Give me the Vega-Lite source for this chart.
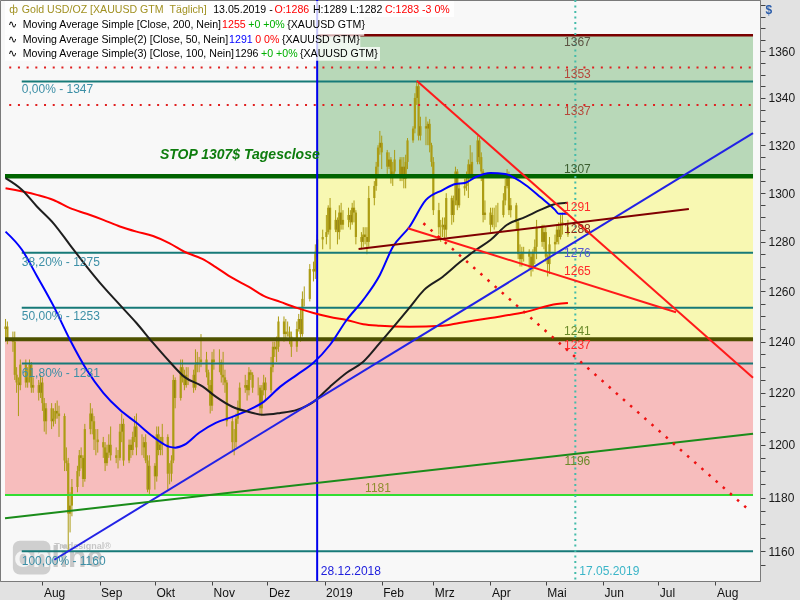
{
"$schema": "https://vega.github.io/schema/vega-lite/v6.json",
"width": 760, "height": 581,
"autosize": {"type": "none"},
"padding": {"left": 0, "top": 0, "right": 40, "bottom": 19},
"background": "#e2e2e2",
"config": {"font": "Liberation Sans", "view": {"fill": "#f8f8f8", "stroke": "#7a7a7a", "strokeWidth": 1}},
"resolve": {"scale": {"color": "independent"}},
"datasets": {
"zones": [
{"x1": "2018-07-11T17:00:00Z", "x2": "2019-08-21T09:00:00Z", "y1": 1181, "y2": 1241, "z": "pink"},
{"x1": "2018-12-28", "x2": "2019-08-21T09:00:00Z", "y1": 1241, "y2": 1307, "z": "yellow"},
{"x1": "2018-12-28", "x2": "2019-08-21T09:00:00Z", "y1": 1307, "y2": 1367, "z": "green"}
],
"wmbox": [
{"x1": "2018-07-15T23:45:00Z", "x2": "2018-08-05T07:50:00Z", "y1": 1163.9, "y2": 1151.5}
],
"wm": [
{"d": "2018-07-16T14:00:00Z", "v": 1157.6, "t": "on", "k": "on"},
{"d": "2018-08-05T20:40:00Z", "v": 1157.6, "t": "line", "k": "line"},
{"d": "2018-08-07T11:14:00Z", "v": 1162.1, "t": "Tradesignal®", "k": "small"}
],
"ohlc": [
{"d":"2018-07-12","o":1245,"h":1249,"l":1240,"c":1246},
{"d":"2018-07-13","o":1246,"h":1248,"l":1239,"c":1241},
{"d":"2018-07-16","o":1241,"h":1244,"l":1236,"c":1240},
{"d":"2018-07-17","o":1240,"h":1244,"l":1225,"c":1227},
{"d":"2018-07-18","o":1227,"h":1230,"l":1220,"c":1224},
{"d":"2018-07-19","o":1224,"h":1226,"l":1211,"c":1223},
{"d":"2018-07-20","o":1223,"h":1233,"l":1221,"c":1231},
{"d":"2018-07-23","o":1231,"h":1233,"l":1222,"c":1224},
{"d":"2018-07-24","o":1224,"h":1230,"l":1222,"c":1226},
{"d":"2018-07-25","o":1226,"h":1233,"l":1224,"c":1231},
{"d":"2018-07-26","o":1231,"h":1232,"l":1220,"c":1222},
{"d":"2018-07-27","o":1222,"h":1226,"l":1220,"c":1223},
{"d":"2018-07-30","o":1223,"h":1225,"l":1217,"c":1220},
{"d":"2018-07-31","o":1220,"h":1227,"l":1218,"c":1224},
{"d":"2018-08-01","o":1224,"h":1226,"l":1213,"c":1216},
{"d":"2018-08-02","o":1216,"h":1218,"l":1205,"c":1209},
{"d":"2018-08-03","o":1209,"h":1216,"l":1204,"c":1214},
{"d":"2018-08-06","o":1214,"h":1216,"l":1206,"c":1209},
{"d":"2018-08-07","o":1209,"h":1214,"l":1207,"c":1210},
{"d":"2018-08-08","o":1210,"h":1216,"l":1208,"c":1213},
{"d":"2018-08-09","o":1213,"h":1217,"l":1210,"c":1212},
{"d":"2018-08-10","o":1212,"h":1215,"l":1203,"c":1211},
{"d":"2018-08-13","o":1211,"h":1212,"l":1190,"c":1194},
{"d":"2018-08-14","o":1194,"h":1199,"l":1190,"c":1193},
{"d":"2018-08-15","o":1193,"h":1195,"l":1160,"c":1174},
{"d":"2018-08-16","o":1174,"h":1182,"l":1167,"c":1177},
{"d":"2018-08-17","o":1177,"h":1187,"l":1173,"c":1184},
{"d":"2018-08-20","o":1184,"h":1192,"l":1182,"c":1190},
{"d":"2018-08-21","o":1190,"h":1198,"l":1188,"c":1196},
{"d":"2018-08-22","o":1196,"h":1199,"l":1191,"c":1195},
{"d":"2018-08-23","o":1195,"h":1196,"l":1184,"c":1187},
{"d":"2018-08-24","o":1187,"h":1208,"l":1186,"c":1206},
{"d":"2018-08-27","o":1206,"h":1216,"l":1204,"c":1212},
{"d":"2018-08-28","o":1212,"h":1214,"l":1204,"c":1209},
{"d":"2018-08-29","o":1209,"h":1211,"l":1198,"c":1202},
{"d":"2018-08-30","o":1202,"h":1206,"l":1196,"c":1202},
{"d":"2018-08-31","o":1202,"h":1206,"l":1197,"c":1201},
{"d":"2018-09-03","o":1201,"h":1203,"l":1195,"c":1199},
{"d":"2018-09-04","o":1199,"h":1201,"l":1190,"c":1193},
{"d":"2018-09-05","o":1193,"h":1200,"l":1192,"c":1197},
{"d":"2018-09-06","o":1197,"h":1204,"l":1195,"c":1200},
{"d":"2018-09-07","o":1200,"h":1207,"l":1194,"c":1196},
{"d":"2018-09-10","o":1196,"h":1199,"l":1193,"c":1195},
{"d":"2018-09-11","o":1195,"h":1198,"l":1191,"c":1195},
{"d":"2018-09-12","o":1195,"h":1208,"l":1194,"c":1205},
{"d":"2018-09-13","o":1205,"h":1212,"l":1201,"c":1208},
{"d":"2018-09-14","o":1208,"h":1210,"l":1192,"c":1194},
{"d":"2018-09-17","o":1194,"h":1202,"l":1193,"c":1200},
{"d":"2018-09-18","o":1200,"h":1202,"l":1195,"c":1198},
{"d":"2018-09-19","o":1198,"h":1205,"l":1196,"c":1203},
{"d":"2018-09-20","o":1203,"h":1211,"l":1201,"c":1207},
{"d":"2018-09-21","o":1207,"h":1212,"l":1196,"c":1199},
{"d":"2018-09-24","o":1199,"h":1204,"l":1196,"c":1199},
{"d":"2018-09-25","o":1199,"h":1203,"l":1195,"c":1201},
{"d":"2018-09-26","o":1201,"h":1204,"l":1193,"c":1194},
{"d":"2018-09-27","o":1194,"h":1196,"l":1182,"c":1183},
{"d":"2018-09-28","o":1183,"h":1196,"l":1181,"c":1192},
{"d":"2018-10-01","o":1192,"h":1193,"l":1183,"c":1188},
{"d":"2018-10-02","o":1188,"h":1207,"l":1186,"c":1204},
{"d":"2018-10-03","o":1204,"h":1207,"l":1196,"c":1198},
{"d":"2018-10-04","o":1198,"h":1203,"l":1196,"c":1200},
{"d":"2018-10-05","o":1200,"h":1208,"l":1196,"c":1203},
{"d":"2018-10-08","o":1203,"h":1204,"l":1183,"c":1189},
{"d":"2018-10-09","o":1189,"h":1193,"l":1185,"c":1189},
{"d":"2018-10-10","o":1189,"h":1196,"l":1186,"c":1194},
{"d":"2018-10-11","o":1194,"h":1227,"l":1193,"c":1225},
{"d":"2018-10-12","o":1225,"h":1226,"l":1214,"c":1218},
{"d":"2018-10-15","o":1218,"h":1233,"l":1217,"c":1230},
{"d":"2018-10-16","o":1230,"h":1233,"l":1224,"c":1226},
{"d":"2018-10-17","o":1226,"h":1229,"l":1221,"c":1223},
{"d":"2018-10-18","o":1223,"h":1230,"l":1222,"c":1227},
{"d":"2018-10-19","o":1227,"h":1230,"l":1223,"c":1227},
{"d":"2018-10-22","o":1227,"h":1229,"l":1220,"c":1222},
{"d":"2018-10-23","o":1222,"h":1237,"l":1221,"c":1231},
{"d":"2018-10-24","o":1231,"h":1236,"l":1228,"c":1232},
{"d":"2018-10-25","o":1232,"h":1234,"l":1228,"c":1232},
{"d":"2018-10-26","o":1232,"h":1243,"l":1230,"c":1233},
{"d":"2018-10-29","o":1233,"h":1236,"l":1226,"c":1228},
{"d":"2018-10-30","o":1228,"h":1229,"l":1221,"c":1223},
{"d":"2018-10-31","o":1223,"h":1225,"l":1212,"c":1215},
{"d":"2018-11-01","o":1215,"h":1236,"l":1213,"c":1233},
{"d":"2018-11-02","o":1233,"h":1237,"l":1229,"c":1232},
{"d":"2018-11-05","o":1232,"h":1237,"l":1228,"c":1232},
{"d":"2018-11-06","o":1232,"h":1233,"l":1224,"c":1227},
{"d":"2018-11-07","o":1227,"h":1236,"l":1223,"c":1226},
{"d":"2018-11-08","o":1226,"h":1229,"l":1220,"c":1224},
{"d":"2018-11-09","o":1224,"h":1225,"l":1207,"c":1209},
{"d":"2018-11-12","o":1209,"h":1211,"l":1198,"c":1201},
{"d":"2018-11-13","o":1201,"h":1206,"l":1196,"c":1201},
{"d":"2018-11-14","o":1201,"h":1212,"l":1199,"c":1210},
{"d":"2018-11-15","o":1210,"h":1217,"l":1208,"c":1214},
{"d":"2018-11-16","o":1214,"h":1224,"l":1213,"c":1222},
{"d":"2018-11-19","o":1222,"h":1227,"l":1220,"c":1223},
{"d":"2018-11-20","o":1223,"h":1225,"l":1217,"c":1221},
{"d":"2018-11-21","o":1221,"h":1230,"l":1219,"c":1228},
{"d":"2018-11-22","o":1228,"h":1229,"l":1225,"c":1227},
{"d":"2018-11-23","o":1227,"h":1228,"l":1220,"c":1222},
{"d":"2018-11-26","o":1222,"h":1226,"l":1219,"c":1222},
{"d":"2018-11-27","o":1222,"h":1223,"l":1212,"c":1214},
{"d":"2018-11-28","o":1214,"h":1223,"l":1211,"c":1221},
{"d":"2018-11-29","o":1221,"h":1227,"l":1219,"c":1224},
{"d":"2018-11-30","o":1224,"h":1226,"l":1217,"c":1221},
{"d":"2018-12-03","o":1221,"h":1234,"l":1220,"c":1230},
{"d":"2018-12-04","o":1230,"h":1240,"l":1228,"c":1238},
{"d":"2018-12-05","o":1238,"h":1240,"l":1234,"c":1237},
{"d":"2018-12-06","o":1237,"h":1242,"l":1232,"c":1238},
{"d":"2018-12-07","o":1238,"h":1250,"l":1236,"c":1248},
{"d":"2018-12-10","o":1248,"h":1250,"l":1240,"c":1243},
{"d":"2018-12-11","o":1243,"h":1249,"l":1241,"c":1244},
{"d":"2018-12-12","o":1244,"h":1248,"l":1242,"c":1244},
{"d":"2018-12-13","o":1244,"h":1246,"l":1239,"c":1242},
{"d":"2018-12-14","o":1242,"h":1244,"l":1234,"c":1238},
{"d":"2018-12-17","o":1238,"h":1248,"l":1236,"c":1245},
{"d":"2018-12-18","o":1245,"h":1251,"l":1244,"c":1249},
{"d":"2018-12-19","o":1249,"h":1253,"l":1240,"c":1243},
{"d":"2018-12-20","o":1243,"h":1260,"l":1242,"c":1257},
{"d":"2018-12-21","o":1257,"h":1262,"l":1254,"c":1257},
{"d":"2018-12-24","o":1257,"h":1271,"l":1256,"c":1269},
{"d":"2018-12-26","o":1269,"h":1272,"l":1264,"c":1268},
{"d":"2018-12-27","o":1268,"h":1279,"l":1265,"c":1276},
{"d":"2018-12-28","o":1276,"h":1283,"l":1274,"c":1281},
{"d":"2018-12-31","o":1281,"h":1285,"l":1277,"c":1282},
{"d":"2019-01-02","o":1282,"h":1291,"l":1279,"c":1284},
{"d":"2019-01-03","o":1284,"h":1295,"l":1283,"c":1294},
{"d":"2019-01-04","o":1294,"h":1298,"l":1277,"c":1285},
{"d":"2019-01-07","o":1285,"h":1293,"l":1284,"c":1289},
{"d":"2019-01-08","o":1289,"h":1290,"l":1279,"c":1284},
{"d":"2019-01-09","o":1284,"h":1295,"l":1281,"c":1292},
{"d":"2019-01-10","o":1292,"h":1296,"l":1285,"c":1287},
{"d":"2019-01-11","o":1287,"h":1293,"l":1285,"c":1289},
{"d":"2019-01-14","o":1289,"h":1294,"l":1286,"c":1291},
{"d":"2019-01-15","o":1291,"h":1293,"l":1285,"c":1288},
{"d":"2019-01-16","o":1288,"h":1296,"l":1287,"c":1294},
{"d":"2019-01-17","o":1294,"h":1297,"l":1288,"c":1292},
{"d":"2019-01-18","o":1292,"h":1293,"l":1279,"c":1282},
{"d":"2019-01-21","o":1282,"h":1284,"l":1277,"c":1280},
{"d":"2019-01-22","o":1280,"h":1286,"l":1278,"c":1283},
{"d":"2019-01-23","o":1283,"h":1286,"l":1279,"c":1282},
{"d":"2019-01-24","o":1282,"h":1286,"l":1275,"c":1280},
{"d":"2019-01-25","o":1280,"h":1303,"l":1278,"c":1298},
{"d":"2019-01-28","o":1298,"h":1305,"l":1295,"c":1303},
{"d":"2019-01-29","o":1303,"h":1313,"l":1301,"c":1311},
{"d":"2019-01-30","o":1311,"h":1320,"l":1307,"c":1319},
{"d":"2019-01-31","o":1319,"h":1326,"l":1316,"c":1321},
{"d":"2019-02-01","o":1321,"h":1324,"l":1310,"c":1317},
{"d":"2019-02-04","o":1317,"h":1318,"l":1308,"c":1311},
{"d":"2019-02-05","o":1311,"h":1317,"l":1310,"c":1314},
{"d":"2019-02-06","o":1314,"h":1315,"l":1304,"c":1307},
{"d":"2019-02-07","o":1307,"h":1313,"l":1303,"c":1309},
{"d":"2019-02-08","o":1309,"h":1318,"l":1308,"c":1314},
{"d":"2019-02-11","o":1314,"h":1315,"l":1305,"c":1307},
{"d":"2019-02-12","o":1307,"h":1315,"l":1305,"c":1311},
{"d":"2019-02-13","o":1311,"h":1315,"l":1302,"c":1306},
{"d":"2019-02-14","o":1306,"h":1316,"l":1302,"c":1313},
{"d":"2019-02-15","o":1313,"h":1323,"l":1310,"c":1322},
{"d":"2019-02-18","o":1322,"h":1328,"l":1321,"c":1327},
{"d":"2019-02-19","o":1327,"h":1342,"l":1325,"c":1340},
{"d":"2019-02-20","o":1340,"h":1347,"l":1337,"c":1345},
{"d":"2019-02-21","o":1345,"h":1347,"l":1322,"c":1324},
{"d":"2019-02-22","o":1324,"h":1332,"l":1322,"c":1328},
{"d":"2019-02-25","o":1328,"h":1332,"l":1320,"c":1327},
{"d":"2019-02-26","o":1327,"h":1330,"l":1320,"c":1329},
{"d":"2019-02-27","o":1329,"h":1331,"l":1317,"c":1320},
{"d":"2019-02-28","o":1320,"h":1321,"l":1311,"c":1313},
{"d":"2019-03-01","o":1313,"h":1315,"l":1291,"c":1293},
{"d":"2019-03-04","o":1293,"h":1296,"l":1283,"c":1286},
{"d":"2019-03-05","o":1286,"h":1289,"l":1280,"c":1286},
{"d":"2019-03-06","o":1286,"h":1290,"l":1282,"c":1287},
{"d":"2019-03-07","o":1287,"h":1290,"l":1281,"c":1285},
{"d":"2019-03-08","o":1285,"h":1300,"l":1282,"c":1298},
{"d":"2019-03-11","o":1298,"h":1299,"l":1287,"c":1291},
{"d":"2019-03-12","o":1291,"h":1299,"l":1288,"c":1297},
{"d":"2019-03-13","o":1297,"h":1311,"l":1295,"c":1309},
{"d":"2019-03-14","o":1309,"h":1310,"l":1293,"c":1295},
{"d":"2019-03-15","o":1295,"h":1304,"l":1294,"c":1302},
{"d":"2019-03-18","o":1302,"h":1306,"l":1299,"c":1303},
{"d":"2019-03-19","o":1303,"h":1309,"l":1301,"c":1306},
{"d":"2019-03-20","o":1306,"h":1314,"l":1298,"c":1312},
{"d":"2019-03-21","o":1312,"h":1320,"l":1305,"c":1307},
{"d":"2019-03-22","o":1307,"h":1317,"l":1306,"c":1313},
{"d":"2019-03-25","o":1313,"h":1324,"l":1312,"c":1322},
{"d":"2019-03-26","o":1322,"h":1323,"l":1312,"c":1315},
{"d":"2019-03-27","o":1315,"h":1317,"l":1305,"c":1309},
{"d":"2019-03-28","o":1309,"h":1310,"l":1288,"c":1291},
{"d":"2019-03-29","o":1291,"h":1297,"l":1289,"c":1292},
{"d":"2019-04-01","o":1292,"h":1294,"l":1284,"c":1287},
{"d":"2019-04-02","o":1287,"h":1294,"l":1286,"c":1291},
{"d":"2019-04-03","o":1291,"h":1294,"l":1285,"c":1291},
{"d":"2019-04-04","o":1291,"h":1295,"l":1286,"c":1291},
{"d":"2019-04-05","o":1291,"h":1296,"l":1288,"c":1291},
{"d":"2019-04-08","o":1291,"h":1300,"l":1290,"c":1297},
{"d":"2019-04-09","o":1297,"h":1306,"l":1295,"c":1303},
{"d":"2019-04-10","o":1303,"h":1310,"l":1302,"c":1308},
{"d":"2019-04-11","o":1308,"h":1309,"l":1291,"c":1293},
{"d":"2019-04-12","o":1293,"h":1298,"l":1290,"c":1295},
{"d":"2019-04-15","o":1295,"h":1296,"l":1285,"c":1288},
{"d":"2019-04-16","o":1288,"h":1289,"l":1273,"c":1275},
{"d":"2019-04-17","o":1275,"h":1279,"l":1270,"c":1273},
{"d":"2019-04-18","o":1273,"h":1278,"l":1270,"c":1276},
{"d":"2019-04-19","o":1276,"h":1278,"l":1272,"c":1276},
{"d":"2019-04-22","o":1276,"h":1277,"l":1269,"c":1274},
{"d":"2019-04-23","o":1274,"h":1276,"l":1266,"c":1270},
{"d":"2019-04-24","o":1270,"h":1277,"l":1268,"c":1276},
{"d":"2019-04-25","o":1276,"h":1281,"l":1271,"c":1278},
{"d":"2019-04-26","o":1278,"h":1289,"l":1273,"c":1286},
{"d":"2019-04-29","o":1286,"h":1287,"l":1278,"c":1280},
{"d":"2019-04-30","o":1280,"h":1287,"l":1277,"c":1284},
{"d":"2019-05-01","o":1284,"h":1286,"l":1272,"c":1274},
{"d":"2019-05-02","o":1274,"h":1275,"l":1266,"c":1271},
{"d":"2019-05-03","o":1271,"h":1282,"l":1267,"c":1279},
{"d":"2019-05-06","o":1279,"h":1283,"l":1276,"c":1280},
{"d":"2019-05-07","o":1280,"h":1287,"l":1279,"c":1285},
{"d":"2019-05-08","o":1285,"h":1288,"l":1279,"c":1282},
{"d":"2019-05-09","o":1282,"h":1291,"l":1281,"c":1287},
{"d":"2019-05-10","o":1287,"h":1292,"l":1283,"c":1288},
{"d":"2019-05-13","o":1286,"h":1289,"l":1282,"c":1283}
],
"hl": [
{"v": 1367, "s": "2018-12-28", "e": "2019-08-21T09:00:00Z", "k": "darkred"},
{"v": 1353, "s": "2018-07-14", "e": "2019-08-21T09:00:00Z", "k": "reddot"},
{"v": 1337, "s": "2018-07-14", "e": "2019-08-21T09:00:00Z", "k": "reddot"},
{"v": 1347, "s": "2018-07-20T19:00:00Z", "e": "2019-08-21T09:00:00Z", "k": "fib"},
{"v": 1275.6, "s": "2018-07-20T19:00:00Z", "e": "2019-08-21T09:00:00Z", "k": "fib"},
{"v": 1253.5, "s": "2018-07-20T19:00:00Z", "e": "2019-08-21T09:00:00Z", "k": "fib"},
{"v": 1231.4, "s": "2018-07-20T19:00:00Z", "e": "2019-08-21T09:00:00Z", "k": "fib"},
{"v": 1160, "s": "2018-07-20T19:00:00Z", "e": "2019-08-21T09:00:00Z", "k": "fib"},
{"v": 1307, "s": "2018-07-11T17:00:00Z", "e": "2019-08-21T09:00:00Z", "k": "stop"},
{"v": 1241, "s": "2018-07-11T17:00:00Z", "e": "2019-08-21T09:00:00Z", "k": "olive"},
{"v": 1181, "s": "2018-07-11T17:00:00Z", "e": "2019-08-21T09:00:00Z", "k": "lgreen"}
],
"vl": [
{"d": "2018-12-28", "k": "blue"},
{"d": "2019-05-17", "k": "teal"}
],
"ma": [
{"d":"2018-07-12","v":1302.0,"s":"ma200"},{"d":"2018-07-29","v":1299.3,"s":"ma200"},{"d":"2018-08-07","v":1297.2,"s":"ma200"},{"d":"2018-08-16","v":1293.8,"s":"ma200"},{"d":"2018-08-25","v":1291.5,"s":"ma200"},{"d":"2018-09-03","v":1289.0,"s":"ma200"},{"d":"2018-09-12","v":1286.3,"s":"ma200"},{"d":"2018-09-21","v":1284.2,"s":"ma200"},{"d":"2018-09-30","v":1282.4,"s":"ma200"},{"d":"2018-10-09","v":1279.4,"s":"ma200"},{"d":"2018-10-17","v":1276.0,"s":"ma200"},{"d":"2018-10-27","v":1273.0,"s":"ma200"},{"d":"2018-11-03","v":1269.8,"s":"ma200"},{"d":"2018-11-12","v":1265.4,"s":"ma200"},{"d":"2018-11-21","v":1261.8,"s":"ma200"},{"d":"2018-11-29","v":1258.2,"s":"ma200"},{"d":"2018-12-08","v":1255.8,"s":"ma200"},{"d":"2018-12-17","v":1253.4,"s":"ma200"},{"d":"2018-12-26","v":1251.4,"s":"ma200"},{"d":"2019-01-04","v":1249.8,"s":"ma200"},{"d":"2019-01-13","v":1248.6,"s":"ma200"},{"d":"2019-01-22","v":1246.9,"s":"ma200"},{"d":"2019-01-31","v":1246.3,"s":"ma200"},{"d":"2019-02-16","v":1245.9,"s":"ma200"},{"d":"2019-03-06","v":1246.3,"s":"ma200"},{"d":"2019-03-15","v":1247.4,"s":"ma200"},{"d":"2019-04-01","v":1249.4,"s":"ma200"},{"d":"2019-04-20","v":1251.8,"s":"ma200"},{"d":"2019-05-07","v":1255.0,"s":"ma200"},{"d":"2019-05-13","v":1255.4,"s":"ma200"},
{"d":"2018-07-12","v":1284.2,"s":"ma50"},{"d":"2018-07-21","v":1276.7,"s":"ma50"},{"d":"2018-07-29","v":1266.2,"s":"ma50"},{"d":"2018-08-07","v":1254.2,"s":"ma50"},{"d":"2018-08-16","v":1240.7,"s":"ma50"},{"d":"2018-08-25","v":1229.0,"s":"ma50"},{"d":"2018-09-03","v":1220.0,"s":"ma50"},{"d":"2018-09-12","v":1213.4,"s":"ma50"},{"d":"2018-09-21","v":1208.4,"s":"ma50"},{"d":"2018-09-30","v":1203.1,"s":"ma50"},{"d":"2018-10-09","v":1199.2,"s":"ma50"},{"d":"2018-10-12","v":1198.9,"s":"ma50"},{"d":"2018-10-17","v":1200.0,"s":"ma50"},{"d":"2018-10-25","v":1204.6,"s":"ma50"},{"d":"2018-11-03","v":1208.4,"s":"ma50"},{"d":"2018-11-12","v":1210.7,"s":"ma50"},{"d":"2018-11-21","v":1213.4,"s":"ma50"},{"d":"2018-11-29","v":1216.5,"s":"ma50"},{"d":"2018-12-08","v":1222.4,"s":"ma50"},{"d":"2018-12-17","v":1227.0,"s":"ma50"},{"d":"2018-12-26","v":1231.7,"s":"ma50"},{"d":"2019-01-04","v":1238.8,"s":"ma50"},{"d":"2019-01-13","v":1248.6,"s":"ma50"},{"d":"2019-01-22","v":1256.6,"s":"ma50"},{"d":"2019-01-31","v":1266.6,"s":"ma50"},{"d":"2019-02-07","v":1277.9,"s":"ma50"},{"d":"2019-02-16","v":1286.1,"s":"ma50"},{"d":"2019-02-25","v":1297.2,"s":"ma50"},{"d":"2019-03-06","v":1301.3,"s":"ma50"},{"d":"2019-03-13","v":1303.8,"s":"ma50"},{"d":"2019-03-18","v":1304.2,"s":"ma50"},{"d":"2019-03-24","v":1306.7,"s":"ma50"},{"d":"2019-04-01","v":1308.4,"s":"ma50"},{"d":"2019-04-09","v":1308.0,"s":"ma50"},{"d":"2019-04-14","v":1306.3,"s":"ma50"},{"d":"2019-04-20","v":1303.4,"s":"ma50"},{"d":"2019-04-28","v":1298.4,"s":"ma50"},{"d":"2019-05-06","v":1293.1,"s":"ma50"},{"d":"2019-05-08","v":1291.5,"s":"ma50"},{"d":"2019-05-13","v":1291.5,"s":"ma50"},
{"d":"2018-07-12","v":1306.2,"s":"ma100"},{"d":"2018-07-21","v":1301.3,"s":"ma100"},{"d":"2018-07-29","v":1294.5,"s":"ma100"},{"d":"2018-08-07","v":1287.6,"s":"ma100"},{"d":"2018-08-16","v":1278.7,"s":"ma100"},{"d":"2018-08-25","v":1270.0,"s":"ma100"},{"d":"2018-09-03","v":1261.9,"s":"ma100"},{"d":"2018-09-12","v":1254.6,"s":"ma100"},{"d":"2018-09-21","v":1247.4,"s":"ma100"},{"d":"2018-09-30","v":1239.5,"s":"ma100"},{"d":"2018-10-09","v":1232.1,"s":"ma100"},{"d":"2018-10-17","v":1226.2,"s":"ma100"},{"d":"2018-10-27","v":1222.4,"s":"ma100"},{"d":"2018-11-03","v":1218.5,"s":"ma100"},{"d":"2018-11-12","v":1214.6,"s":"ma100"},{"d":"2018-11-21","v":1212.6,"s":"ma100"},{"d":"2018-11-29","v":1211.5,"s":"ma100"},{"d":"2018-12-08","v":1212.2,"s":"ma100"},{"d":"2018-12-17","v":1213.4,"s":"ma100"},{"d":"2018-12-26","v":1216.5,"s":"ma100"},{"d":"2019-01-04","v":1222.4,"s":"ma100"},{"d":"2019-01-13","v":1227.8,"s":"ma100"},{"d":"2019-01-22","v":1232.1,"s":"ma100"},{"d":"2019-01-31","v":1239.5,"s":"ma100"},{"d":"2019-02-16","v":1253.4,"s":"ma100"},{"d":"2019-02-24","v":1260.6,"s":"ma100"},{"d":"2019-03-06","v":1265.8,"s":"ma100"},{"d":"2019-03-15","v":1271.5,"s":"ma100"},{"d":"2019-03-24","v":1276.7,"s":"ma100"},{"d":"2019-04-01","v":1280.8,"s":"ma100"},{"d":"2019-04-10","v":1287.0,"s":"ma100"},{"d":"2019-04-20","v":1290.2,"s":"ma100"},{"d":"2019-04-28","v":1293.1,"s":"ma100"},{"d":"2019-05-07","v":1295.6,"s":"ma100"},{"d":"2019-05-13","v":1296.0,"s":"ma100"}
],
"trend": [
{"d":"2018-08-07T11:00:00Z","v":1156.9,"id":"blueT"},{"d":"2019-08-21T09:00:00Z","v":1325.1,"id":"blueT"},
{"d":"2019-02-20","v":1347.3,"id":"redD"},{"d":"2019-08-21T09:00:00Z","v":1225.9,"id":"redD"},
{"d":"2019-02-15T03:00:00Z","v":1285.6,"id":"redL"},{"d":"2019-07-10T15:00:00Z","v":1251.7,"id":"redL"},
{"d":"2019-01-19T11:00:00Z","v":1277.1,"id":"brown"},{"d":"2019-07-17T14:00:00Z","v":1293.5,"id":"brown"},
{"d":"2018-07-11T17:00:00Z","v":1172.3,"id":"green"},{"d":"2019-08-21T09:00:00Z","v":1204.2,"id":"green"},
{"d":"2019-02-23T15:00:00Z","v":1287.6,"id":"redDot"},{"d":"2019-08-19T18:00:00Z","v":1175.0,"id":"redDot"}
],
"lblL": [
{"d":"2018-07-20T19:21:00Z","v":1343.6,"t":"0,00% - 1347","k":"fib"},
{"d":"2018-07-20T19:21:00Z","v":1271.9,"t":"38,20% - 1275","k":"fib"},
{"d":"2018-07-20T19:21:00Z","v":1250.2,"t":"50,00% - 1253","k":"fib"},
{"d":"2018-07-20T19:21:00Z","v":1227.8,"t":"61,80% - 1231","k":"fib"},
{"d":"2018-07-20T19:21:00Z","v":1156.6,"t":"100,00% - 1160","k":"fib"},
{"d":"2018-12-30T00:00:00Z","v":1152.6,"t":"28.12.2018","k":"blue"},
{"d":"2019-05-19T04:00:00Z","v":1152.6,"t":"17.05.2019","k":"teal"}
],
"lblC": [
{"d":"2019-05-18T03:00:00Z","v":1364.0,"t":"1367","k":"dk"},
{"d":"2019-05-18T03:00:00Z","v":1350.3,"t":"1353","k":"rb"},
{"d":"2019-05-18T03:00:00Z","v":1334.4,"t":"1337","k":"rb"},
{"d":"2019-05-18T03:00:00Z","v":1310.0,"t":"1307","k":"dg"},
{"d":"2019-05-18T03:00:00Z","v":1294.3,"t":"1291","k":"red"},
{"d":"2019-05-18T03:00:00Z","v":1285.3,"t":"1288","k":"brown"},
{"d":"2019-05-18T03:00:00Z","v":1275.5,"t":"1276","k":"slate"},
{"d":"2019-05-18T03:00:00Z","v":1268.2,"t":"1265","k":"red"},
{"d":"2019-05-18T03:00:00Z","v":1244.3,"t":"1241","k":"og"},
{"d":"2019-05-18T03:00:00Z","v":1238.8,"t":"1237","k":"red"},
{"d":"2019-05-18T03:00:00Z","v":1193.9,"t":"1196","k":"og"},
{"d":"2019-01-30T00:00:00Z","v":1183.7,"t":"1181","k":"ol"}
],
"stop": [
{"d":"2018-10-03T17:30:00Z","v":1315.9,"t":"STOP 1307$ Tagesclose"}
],
"lbg": [
{"x1":"2018-07-11T17:00:00Z","x2":"2019-03-12T05:15:00Z","y1":1382.0,"y2":1374.9},
{"x1":"2018-07-11T17:00:00Z","x2":"2019-01-22T12:26:00Z","y1":1374.9,"y2":1366.8},
{"x1":"2018-07-11T17:00:00Z","x2":"2019-01-20T09:05:00Z","y1":1366.8,"y2":1361.9},
{"x1":"2018-07-11T17:00:00Z","x2":"2019-01-31T01:53:00Z","y1":1361.9,"y2":1355.9}
],
"leg": [
{"d":"2018-07-14T00:00:00Z","v":1378.0,"t":"ф","k":"olive"},
{"d":"2018-07-20T19:21:00Z","v":1378.0,"t":"Gold USD/OZ [XAUUSD GTM \u00a0Täglich]","k":"olive"},
{"d":"2018-11-01T15:06:00Z","v":1378.0,"t":"13.05.2019 -","k":"black"},
{"d":"2018-12-04T19:38:00Z","v":1378.0,"t":"O:1286","k":"red"},
{"d":"2018-12-25T16:30:00Z","v":1378.0,"t":"H:1289 L:1282","k":"black"},
{"d":"2019-02-02T18:12:00Z","v":1378.0,"t":"C:1283 -3 0%","k":"red"},
{"d":"2018-07-13T12:00:00Z","v":1371.4,"t":"∿","k":"black"},
{"d":"2018-07-21T08:12:00Z","v":1371.4,"t":"Moving Average Simple [Close, 200, Nein]","k":"black"},
{"d":"2018-11-06T10:45:00Z","v":1371.4,"t":"1255","k":"red"},
{"d":"2018-11-20T15:05:00Z","v":1371.4,"t":"+0 +0%","k":"green"},
{"d":"2018-12-11T18:26:00Z","v":1371.4,"t":"{XAUUSD GTM}","k":"black"},
{"d":"2018-07-13T12:00:00Z","v":1364.9,"t":"∿","k":"black"},
{"d":"2018-07-21T08:12:00Z","v":1364.9,"t":"Moving Average Simple(2) [Close, 50, Nein]","k":"black"},
{"d":"2018-11-10T05:58:00Z","v":1364.9,"t":"1291","k":"blue"},
{"d":"2018-11-24T10:17:00Z","v":1364.9,"t":"0 0%","k":"red"},
{"d":"2018-12-08T22:31:00Z","v":1364.9,"t":"{XAUUSD GTM}","k":"black"},
{"d":"2018-07-13T12:00:00Z","v":1358.9,"t":"∿","k":"black"},
{"d":"2018-07-21T08:12:00Z","v":1358.9,"t":"Moving Average Simple(3) [Close, 100, Nein]","k":"black"},
{"d":"2018-11-13T09:48:00Z","v":1358.9,"t":"1296","k":"black"},
{"d":"2018-11-27T14:07:00Z","v":1358.9,"t":"+0 +0%","k":"green"},
{"d":"2018-12-18T16:17:00Z","v":1358.9,"t":"{XAUUSD GTM}","k":"black"}
]
},
"layer": [
{"data": {"name": "zones"}, "mark": {"type": "rect", "clip": true},
 "encoding": {
  "x": {"field": "x1", "type": "temporal",
   "scale": {"type": "utc", "domain": [{"year": 2018, "month": 7, "date": 11, "hours": 17, "utc": true}, {"year": 2019, "month": 8, "date": 22, "hours": 10, "minutes": 45, "utc": true}]},
   "axis": {"orient": "bottom", "title": null, "grid": false,
    "values": [{"year":2018,"month":8,"date":1,"utc":true},{"year":2018,"month":9,"date":1,"utc":true},{"year":2018,"month":10,"date":1,"utc":true},{"year":2018,"month":11,"date":1,"utc":true},{"year":2018,"month":12,"date":1,"utc":true},{"year":2019,"month":1,"date":1,"utc":true},{"year":2019,"month":2,"date":1,"utc":true},{"year":2019,"month":3,"date":1,"utc":true},{"year":2019,"month":4,"date":1,"utc":true},{"year":2019,"month":5,"date":1,"utc":true},{"year":2019,"month":6,"date":1,"utc":true},{"year":2019,"month":7,"date":1,"utc":true},{"year":2019,"month":8,"date":1,"utc":true}],
    "labelExpr": "utcmonth(datum.value) == 0 ? utcFormat(datum.value, '%Y') : ['Jan','Feb','Mrz','Apr','Mai','Jun','Jul','Aug','Sep','Okt','Nov','Dez'][utcmonth(datum.value)]",
    "labelAlign": "left", "labelOffset": 1, "labelPadding": 2, "labelBaseline": "top", "labelFontSize": 12, "labelColor": "#111111", "labelFont": "Liberation Sans",
    "tickSize": 4, "tickColor": "#444444", "domainColor": "#7a7a7a", "labelOverlap": false, "labelBound": false, "labelFlush": false}},
  "x2": {"field": "x2"},
  "y": {"field": "y1", "type": "quantitative",
   "scale": {"type": "log", "domain": [1149.1, 1382.4], "nice": false},
   "axis": {"orient": "right", "grid": false,
    "values": [1155,1160,1165,1170,1175,1180,1185,1190,1195,1200,1205,1210,1215,1220,1225,1230,1235,1240,1245,1250,1255,1260,1265,1270,1275,1280,1285,1290,1295,1300,1305,1310,1315,1320,1325,1330,1335,1340,1345,1350,1355,1360,1365,1370,1375,1380],
    "labelExpr": "(datum.value % 20 == 0 && datum.value < 1370) ? format(datum.value, 'd') : ''",
    "tickSize": 5, "tickColor": "#444444", "domainColor": "#7a7a7a", "labelPadding": 3, "labelFontSize": 12, "labelColor": "#1a1a1a", "labelFont": "Liberation Sans", "labelOverlap": false, "labelBound": false, "labelFlush": false,
    "title": "$", "titleAngle": 0, "titleX": 5, "titleY": 4, "titleAlign": "left", "titleBaseline": "top", "titleColor": "#2a5caa", "titleFontSize": 12, "titleFontWeight": "bold", "titleFont": "Liberation Sans"}},
  "y2": {"field": "y2"},
  "color": {"field": "z", "type": "nominal", "scale": {"domain": ["pink", "yellow", "green"], "range": ["#f7bdbd", "#f8f8b2", "#b8d8b8"]}, "legend": null}
 }},
{"data": {"name": "wmbox"}, "mark": {"type": "rect", "color": "#c8c8c8", "cornerRadius": 7, "opacity": 0.85, "clip": true},
 "encoding": {"x": {"field": "x1", "type": "temporal"}, "x2": {"field": "x2"}, "y": {"field": "y1", "type": "quantitative"}, "y2": {"field": "y2"}}},
{"data": {"name": "wm"}, "transform": [{"filter": "datum.k == 'on'"}],
 "mark": {"type": "text", "align": "left", "baseline": "middle", "fontSize": 30, "fontWeight": "bold", "color": "#f4f4f4", "font": "Liberation Sans", "clip": true},
 "encoding": {"x": {"field": "d", "type": "temporal"}, "y": {"field": "v", "type": "quantitative"}, "text": {"field": "t"}}},
{"data": {"name": "wm"}, "transform": [{"filter": "datum.k == 'line'"}],
 "mark": {"type": "text", "align": "left", "baseline": "middle", "fontSize": 30, "fontWeight": "bold", "color": "#c8c8c8", "font": "Liberation Sans", "clip": true},
 "encoding": {"x": {"field": "d", "type": "temporal"}, "y": {"field": "v", "type": "quantitative"}, "text": {"field": "t"}}},
{"data": {"name": "wm"}, "transform": [{"filter": "datum.k == 'small'"}],
 "mark": {"type": "text", "align": "left", "baseline": "middle", "fontSize": 9, "fontWeight": "bold", "color": "#c6c6c6", "font": "Liberation Sans", "clip": true},
 "encoding": {"x": {"field": "d", "type": "temporal"}, "y": {"field": "v", "type": "quantitative"}, "text": {"field": "t"}}},
{"data": {"name": "ohlc"}, "mark": {"type": "rule", "color": "#ac9c14", "strokeWidth": 1, "blend": "multiply", "clip": true},
 "encoding": {"x": {"field": "d", "type": "temporal"}, "y": {"field": "l", "type": "quantitative"}, "y2": {"field": "h"}}},
{"data": {"name": "ohlc"}, "mark": {"type": "bar", "color": "#ac9c14", "size": 2.2, "blend": "multiply", "clip": true},
 "encoding": {"x": {"field": "d", "type": "temporal"}, "y": {"field": "o", "type": "quantitative"}, "y2": {"field": "c"}}},
{"data": {"name": "hl"}, "transform": [{"filter": "datum.k == 'fib'"}], "mark": {"type": "rule", "color": "#177a78", "strokeWidth": 2, "clip": true},
 "encoding": {"x": {"field": "s", "type": "temporal"}, "x2": {"field": "e"}, "y": {"field": "v", "type": "quantitative"}}},
{"data": {"name": "hl"}, "transform": [{"filter": "datum.k == 'stop'"}], "mark": {"type": "rule", "color": "#006400", "strokeWidth": 4.5, "clip": true},
 "encoding": {"x": {"field": "s", "type": "temporal"}, "x2": {"field": "e"}, "y": {"field": "v", "type": "quantitative"}}},
{"data": {"name": "hl"}, "transform": [{"filter": "datum.k == 'olive'"}], "mark": {"type": "rule", "color": "#4e5200", "strokeWidth": 4, "clip": true},
 "encoding": {"x": {"field": "s", "type": "temporal"}, "x2": {"field": "e"}, "y": {"field": "v", "type": "quantitative"}}},
{"data": {"name": "hl"}, "transform": [{"filter": "datum.k == 'lgreen'"}], "mark": {"type": "rule", "color": "#33dd33", "strokeWidth": 2, "clip": true},
 "encoding": {"x": {"field": "s", "type": "temporal"}, "x2": {"field": "e"}, "y": {"field": "v", "type": "quantitative"}}},
{"data": {"name": "hl"}, "transform": [{"filter": "datum.k == 'darkred'"}], "mark": {"type": "rule", "color": "#7a0000", "strokeWidth": 2.5, "clip": true},
 "encoding": {"x": {"field": "s", "type": "temporal"}, "x2": {"field": "e"}, "y": {"field": "v", "type": "quantitative"}}},
{"data": {"name": "hl"}, "transform": [{"filter": "datum.k == 'reddot'"}], "mark": {"type": "rule", "color": "#e02020", "strokeWidth": 2, "strokeDash": [2, 6.7], "clip": true},
 "encoding": {"x": {"field": "s", "type": "temporal"}, "x2": {"field": "e"}, "y": {"field": "v", "type": "quantitative"}}},
{"data": {"name": "vl"}, "transform": [{"filter": "datum.k == 'blue'"}], "mark": {"type": "rule", "color": "#0000ee", "strokeWidth": 2, "clip": true},
 "encoding": {"x": {"field": "d", "type": "temporal"}}},
{"data": {"name": "vl"}, "transform": [{"filter": "datum.k == 'teal'"}], "mark": {"type": "rule", "color": "#44bbaa", "strokeWidth": 2, "strokeDash": [2, 3.5], "clip": true},
 "encoding": {"x": {"field": "d", "type": "temporal"}}},
{"data": {"name": "ma"}, "mark": {"type": "line", "strokeWidth": 2, "interpolate": "monotone", "clip": true},
 "encoding": {"x": {"field": "d", "type": "temporal"}, "y": {"field": "v", "type": "quantitative"},
  "color": {"field": "s", "type": "nominal", "scale": {"domain": ["ma200", "ma50", "ma100"], "range": ["#ff0000", "#0000ff", "#1e1e1e"]}, "legend": null}}},
{"data": {"name": "trend"}, "transform": [{"filter": "datum.id != 'redDot'"}], "mark": {"type": "line", "strokeWidth": 2, "clip": true},
 "encoding": {"x": {"field": "d", "type": "temporal"}, "y": {"field": "v", "type": "quantitative"},
  "color": {"field": "id", "type": "nominal", "scale": {"domain": ["blueT", "redD", "redL", "brown", "green"], "range": ["#2222e6", "#ff1a1a", "#ff1a1a", "#800000", "#1a8c1a"]}, "legend": null}}},
{"data": {"name": "trend"}, "transform": [{"filter": "datum.id == 'redDot'"}], "mark": {"type": "line", "strokeWidth": 2.5, "strokeDash": [2.5, 7], "color": "#ee1111", "clip": true},
 "encoding": {"x": {"field": "d", "type": "temporal"}, "y": {"field": "v", "type": "quantitative"}}},
{"data": {"name": "lblL"}, "mark": {"type": "text", "align": "left", "baseline": "middle", "fontSize": 12, "font": "Liberation Sans", "clip": true},
 "encoding": {"x": {"field": "d", "type": "temporal"}, "y": {"field": "v", "type": "quantitative"}, "text": {"field": "t"},
  "color": {"field": "k", "type": "nominal", "scale": {"domain": ["fib", "blue", "teal"], "range": ["#3c8fa6", "#2020dd", "#3bb5c8"]}, "legend": null}}},
{"data": {"name": "lblC"}, "mark": {"type": "text", "align": "center", "baseline": "middle", "fontSize": 12, "font": "Liberation Sans", "clip": true},
 "encoding": {"x": {"field": "d", "type": "temporal"}, "y": {"field": "v", "type": "quantitative"}, "text": {"field": "t"},
  "color": {"field": "k", "type": "nominal", "scale": {"domain": ["dk", "rb", "dg", "red", "brown", "slate", "og", "ol"], "range": ["#5c5444", "#b5473a", "#3d5e30", "#ff2a2a", "#8a2a18", "#5a5ad0", "#6a8a2a", "#8e8e2e"]}, "legend": null}}},
{"data": {"name": "stop"}, "mark": {"type": "text", "align": "left", "baseline": "middle", "fontSize": 14, "fontWeight": "bold", "fontStyle": "italic", "color": "#0e7d0e", "font": "Liberation Sans", "clip": true},
 "encoding": {"x": {"field": "d", "type": "temporal"}, "y": {"field": "v", "type": "quantitative"}, "text": {"field": "t"}}},
{"data": {"name": "lbg"}, "mark": {"type": "rect", "color": "#ffffff", "opacity": 0.78, "clip": true},
 "encoding": {"x": {"field": "x1", "type": "temporal"}, "x2": {"field": "x2"}, "y": {"field": "y1", "type": "quantitative"}, "y2": {"field": "y2"}}},
{"data": {"name": "leg"}, "mark": {"type": "text", "align": "left", "baseline": "middle", "fontSize": 10.6, "font": "Liberation Sans", "clip": true},
 "encoding": {"x": {"field": "d", "type": "temporal"}, "y": {"field": "v", "type": "quantitative"}, "text": {"field": "t"},
  "color": {"field": "k", "type": "nominal", "scale": {"domain": ["olive", "black", "red", "green", "blue"], "range": ["#a09020", "#000000", "#ff0000", "#00b000", "#0000ff"]}, "legend": null}}}
]
}
